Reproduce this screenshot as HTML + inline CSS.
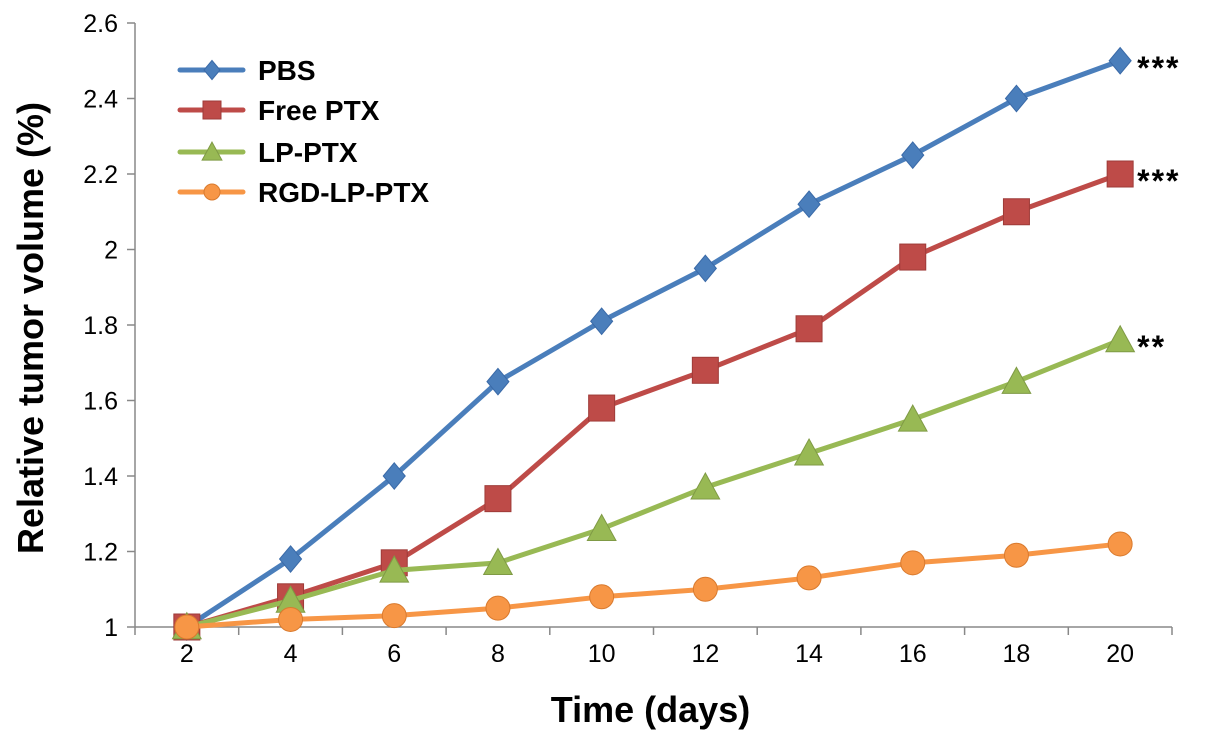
<!DOCTYPE html>
<html><head><meta charset="utf-8"><style>
body{margin:0;background:#fff;font-family:"Liberation Sans",Arial,sans-serif}
</style></head><body>
<svg id="c" width="1205" height="739" xmlns="http://www.w3.org/2000/svg"></svg>
<script>
const categories=[2,4,6,8,10,12,14,16,18,20];
const pbs=[1,1.18,1.40,1.65,1.81,1.95,2.12,2.25,2.40,2.50];
const freePtx=[1,1.08,1.17,1.34,1.58,1.68,1.79,1.98,2.10,2.20];
const lpPtx=[1,1.07,1.15,1.17,1.26,1.37,1.46,1.55,1.65,1.76];
const rgd=[1,1.02,1.03,1.05,1.08,1.10,1.13,1.17,1.19,1.22];
const yTicks=[1,1.2,1.4,1.6,1.8,2,2.2,2.4,2.6];
const yTickLabels=["1","1.2","1.4","1.6","1.8","2","2.2","2.4","2.6"];
const seriesNames=["PBS","Free PTX","LP-PTX","RGD-LP-PTX"];
const stars=["***","***","**",""];
const svg=document.getElementById('c');const NS='http://www.w3.org/2000/svg';
const X0=135,X1=1172,Y0=627,Y1=23;
const step=(X1-X0)/categories.length;
const x=i=>X0+step*(i+0.5);
const y=v=>Y0-(v-1)/(2.6-1)*(Y0-Y1);
function el(t,a,p){const e=document.createElementNS(NS,t);for(const k in a)e.setAttribute(k,a[k]);(p||svg).appendChild(e);return e;}
let e;
e=el('line',{x1:X0,y1:Y1,x2:X0,y2:Y0,stroke:'#888','stroke-width':1.5});


e=el('line',{x1:X0,y1:Y0,x2:X1,y2:Y0,stroke:'#888','stroke-width':1.5});


yTicks.forEach((v,i)=>{el('line',{x1:X0-8,x2:X0,y1:y(v),y2:y(v),stroke:'#888','stroke-width':1.5});
const t=el('text',{x:X0-17,y:y(v)+9,'text-anchor':'end','font-size':25,fill:'#000'});t.textContent=yTickLabels[i];

});
for(let i=0;i<=categories.length;i++)el('line',{x1:X0+step*i,x2:X0+step*i,y1:Y0,y2:Y0+8,stroke:'#888','stroke-width':1.5});
categories.forEach((c,i)=>{const t=el('text',{x:x(i),y:Y0+35,'text-anchor':'middle','font-size':25});t.textContent=c;

});
let t=el('text',{x:(X0+X1)/2-3,y:722,'text-anchor':'middle','font-size':36,'font-weight':'bold'});t.textContent='Time (days)';


t=el('text',{x:0,y:0,'text-anchor':'middle','font-size':36,'font-weight':'bold',transform:'translate(43,328) rotate(-90)'});t.textContent='Relative tumor volume (%)';


const colors=['#4A7EBB','#BE4B48','#98B954','#F79646'];
const strokes=['#3A6AA8','#9E3B38','#7F9A45','#D97A2E'];
function marker(k,cx,cy,s,g){
 if(k==0)return el('polygon',{points:`${cx},${cy-s*1.2} ${cx+s},${cy} ${cx},${cy+s*1.2} ${cx-s},${cy}`,fill:colors[0],stroke:strokes[0]},g);
 if(k==1)return el('rect',{x:cx-s,y:cy-s,width:2*s,height:2*s,fill:colors[1],stroke:strokes[1]},g);
 if(k==2)return el('polygon',{points:`${cx},${cy-s*1.1} ${cx+s*1.1},${cy+s*0.9} ${cx-s*1.1},${cy+s*0.9}`,fill:colors[2],stroke:strokes[2]},g);
 return el('circle',{cx,cy,r:s,fill:colors[3],stroke:strokes[3]},g);
}
const sizes=[11,13,13,12];
[pbs,freePtx,lpPtx,rgd].forEach((d,k)=>{
 const g=el('g',{});
 
 
 el('polyline',{points:d.map((v,i)=>x(i)+','+y(v)).join(' '),fill:'none',stroke:colors[k],'stroke-width':5,'stroke-linejoin':'round'},g);
 d.forEach((v,i)=>{const m=marker(k,x(i),y(v),sizes[k],g);
  
  });
 if(stars[k]){const s=el('text',{x:x(d.length-1)+17,y:y(d[d.length-1])+18,'font-size':32,'font-weight':'bold','letter-spacing':2},g);s.textContent=stars[k];}
 const ly=[70,110,152,192][k];
 const lg=el('g',{});
 
 
 el('line',{x1:180,x2:243,y1:ly,y2:ly,stroke:colors[k],'stroke-width':5,'stroke-linecap':'round'},lg);
 marker(k,212,ly,[8,9,9,8][k],lg);
 const lt=el('text',{x:258,y:ly+10,'font-size':28,'font-weight':'bold'},lg);lt.textContent=seriesNames[k];
});
</script>
</body></html>
